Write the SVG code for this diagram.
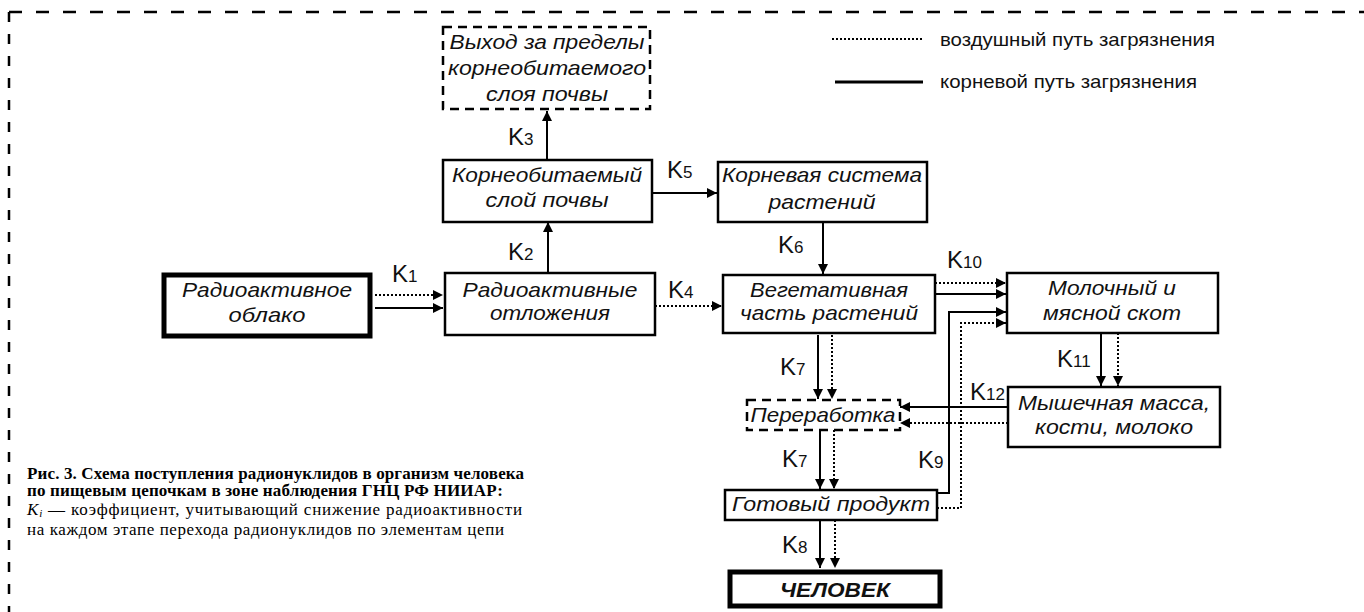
<svg xmlns="http://www.w3.org/2000/svg" width="1364" height="612" viewBox="0 0 1364 612">
<style>
.box{fill:#fff;stroke:#000;stroke-width:2.5}
.thick{fill:#fff;stroke:#000;stroke-width:5}
.dbox{fill:#fff;stroke:#000;stroke-width:2.5;stroke-dasharray:9 6}
.nt{font-family:"Liberation Sans",Arial,sans-serif;font-style:italic;font-size:21px;text-anchor:middle;fill:#111}
.k{font-family:"Liberation Sans",Arial,sans-serif;font-size:24px;fill:#111}
.k tspan{font-size:17px}
.sol{stroke:#000;stroke-width:2;fill:none}
.dot{stroke:#000;stroke-width:2;fill:none;stroke-dasharray:2 2}
.leg{font-family:"Liberation Sans",Arial,sans-serif;font-size:19px;fill:#111}
.cap{font-family:"Liberation Serif","Times New Roman",serif;font-size:17px;fill:#000}
</style>
<defs>
<marker id="ah" viewBox="0 0 10 10" refX="10" refY="5" markerWidth="10" markerHeight="10" markerUnits="userSpaceOnUse" orient="auto">
<path d="M0,0 L10,5 L0,10 Z" fill="#000"/>
</marker>
</defs>
<rect width="1364" height="612" fill="#fff"/>
<g id="frame" fill="none" stroke="#000" stroke-width="2.5">
<path d="M9,12 H1364" stroke-dasharray="13 14"/>
<path d="M9,12 V612" stroke-dasharray="10 12"/>
</g>
<g id="legend">
<line x1="832" y1="39" x2="923" y2="39" class="dot"/>
<text x="940" y="46" class="leg" textLength="275" lengthAdjust="spacingAndGlyphs">воздушный путь загрязнения</text>
<line x1="835" y1="82" x2="923" y2="82" stroke="#000" stroke-width="3"/>
<text x="940" y="88" class="leg" textLength="257" lengthAdjust="spacingAndGlyphs">корневой путь загрязнения</text>
</g>
<g id="connectors">
<line x1="375" y1="295" x2="443" y2="295" class="dot" marker-end="url(#ah)"/>
<line x1="375" y1="308" x2="443" y2="308" class="sol" marker-end="url(#ah)"/>
<line x1="548" y1="273" x2="548" y2="222" class="sol" marker-end="url(#ah)"/>
<line x1="547" y1="160" x2="547" y2="111" class="sol" marker-end="url(#ah)"/>
<line x1="652" y1="193" x2="717" y2="193" class="sol" marker-end="url(#ah)"/>
<line x1="655" y1="306" x2="722" y2="306" class="dot" marker-end="url(#ah)"/>
<line x1="823" y1="222" x2="823" y2="274" class="sol" marker-end="url(#ah)"/>
<line x1="935" y1="283" x2="1006" y2="283" class="dot" marker-end="url(#ah)"/>
<line x1="935" y1="294" x2="1006" y2="294" class="sol" marker-end="url(#ah)"/>
<path d="M937,493 H949 V312 H1006" class="sol" marker-end="url(#ah)"/>
<path d="M937,508 H961 V323 H1006" class="dot" marker-end="url(#ah)"/>
<line x1="1101" y1="333" x2="1101" y2="386" class="sol" marker-end="url(#ah)"/>
<line x1="1118" y1="333" x2="1118" y2="386" class="dot" marker-end="url(#ah)"/>
<line x1="1008" y1="407" x2="900" y2="407" class="sol" marker-end="url(#ah)"/>
<line x1="1008" y1="423" x2="900" y2="423" class="dot" marker-end="url(#ah)"/>
<line x1="818" y1="335" x2="818" y2="399" class="sol" marker-end="url(#ah)"/>
<line x1="832" y1="335" x2="832" y2="399" class="dot" marker-end="url(#ah)"/>
<line x1="820" y1="430" x2="820" y2="489" class="sol" marker-end="url(#ah)"/>
<line x1="834" y1="430" x2="834" y2="489" class="dot" marker-end="url(#ah)"/>
<line x1="820" y1="520" x2="820" y2="568" class="sol" marker-end="url(#ah)"/>
<line x1="835" y1="520" x2="835" y2="568" class="dot" marker-end="url(#ah)"/>
</g>
<g id="klabels">
<text x="508" y="145" class="k">K<tspan>3</tspan></text>
<text x="667" y="178" class="k">K<tspan>5</tspan></text>
<text x="508" y="260" class="k">K<tspan>2</tspan></text>
<text x="392" y="282" class="k">K<tspan>1</tspan></text>
<text x="668" y="298" class="k">K<tspan>4</tspan></text>
<text x="778" y="253" class="k">K<tspan>6</tspan></text>
<text x="947" y="268" class="k">K<tspan>10</tspan></text>
<text x="780" y="375" class="k">K<tspan>7</tspan></text>
<text x="1057" y="367" class="k">K<tspan>11</tspan></text>
<text x="970" y="400" class="k">K<tspan>12</tspan></text>
<text x="782" y="467" class="k">K<tspan>7</tspan></text>
<text x="918" y="468" class="k">K<tspan>9</tspan></text>
<text x="782" y="553" class="k">K<tspan>8</tspan></text>
</g>
<g id="n-exit">
<rect x="443" y="27" width="207" height="82" class="dbox"/>
<text x="547" y="49" class="nt" textLength="195" lengthAdjust="spacingAndGlyphs">Выход за пределы</text>
<text x="547" y="75" class="nt" textLength="198" lengthAdjust="spacingAndGlyphs">корнеобитаемого</text>
<text x="547" y="101" class="nt" textLength="122" lengthAdjust="spacingAndGlyphs">слоя почвы</text>
</g>
<g id="n-rootlayer">
<rect x="443" y="160" width="209" height="62" class="box"/>
<text x="547" y="182" class="nt" textLength="190" lengthAdjust="spacingAndGlyphs">Корнеобитаемый</text>
<text x="547" y="207" class="nt" textLength="123" lengthAdjust="spacingAndGlyphs">слой почвы</text>
</g>
<g id="n-rootsystem">
<rect x="718" y="162" width="209" height="60" class="box"/>
<text x="822" y="182" class="nt" textLength="200" lengthAdjust="spacingAndGlyphs">Корневая система</text>
<text x="822" y="209" class="nt" textLength="107" lengthAdjust="spacingAndGlyphs">растений</text>
</g>
<g id="n-cloud">
<rect x="164" y="275" width="206" height="61" class="thick"/>
<text x="267" y="297" class="nt" textLength="170" lengthAdjust="spacingAndGlyphs">Радиоактивное</text>
<text x="267" y="322" class="nt" textLength="77" lengthAdjust="spacingAndGlyphs">облако</text>
</g>
<g id="n-deposits">
<rect x="445" y="273" width="210" height="62" class="box"/>
<text x="550" y="297" class="nt" textLength="175" lengthAdjust="spacingAndGlyphs">Радиоактивные</text>
<text x="550" y="320" class="nt" textLength="120" lengthAdjust="spacingAndGlyphs">отложения</text>
</g>
<g id="n-vegetative">
<rect x="723" y="275" width="212" height="58" class="box"/>
<text x="829" y="297" class="nt" textLength="158" lengthAdjust="spacingAndGlyphs">Вегетативная</text>
<text x="829" y="320" class="nt" textLength="178" lengthAdjust="spacingAndGlyphs">часть растений</text>
</g>
<g id="n-cattle">
<rect x="1007" y="273" width="211" height="60" class="box"/>
<text x="1112" y="295" class="nt" textLength="128" lengthAdjust="spacingAndGlyphs">Молочный и</text>
<text x="1112" y="320" class="nt" textLength="138" lengthAdjust="spacingAndGlyphs">мясной скот</text>
</g>
<g id="n-muscle">
<rect x="1008" y="387" width="212" height="60" class="box"/>
<text x="1114" y="410" class="nt" textLength="192" lengthAdjust="spacingAndGlyphs">Мышечная масса,</text>
<text x="1114" y="434" class="nt" textLength="158" lengthAdjust="spacingAndGlyphs">кости, молоко</text>
</g>
<g id="n-processing">
<rect x="747" y="400" width="153" height="30" class="dbox"/>
<text x="823" y="422" class="nt" textLength="145" lengthAdjust="spacingAndGlyphs">Переработка</text>
</g>
<g id="n-product">
<rect x="725" y="490" width="212" height="30" class="box"/>
<text x="831" y="511" class="nt" textLength="198" lengthAdjust="spacingAndGlyphs">Готовый продукт</text>
</g>
<g id="n-human">
<rect x="730" y="572" width="210" height="34" class="thick"/>
<text x="835" y="597" class="nt" font-weight="bold" textLength="110" lengthAdjust="spacingAndGlyphs">ЧЕЛОВЕК</text>
</g>
<g id="caption">
<text x="27" y="479" class="cap" font-weight="bold" textLength="497" lengthAdjust="spacing">Рис. 3. Схема поступления радионуклидов в организм человека</text>
<text x="27" y="496" class="cap" font-weight="bold" textLength="476" lengthAdjust="spacing">по пищевым цепочкам в зоне наблюдения ГНЦ РФ НИИАР:</text>
<text x="27" y="515" class="cap" textLength="495" lengthAdjust="spacing"><tspan font-style="italic">K</tspan><tspan font-style="italic" font-size="11" dy="2">i</tspan><tspan dy="-2"> — коэффициент, учитывающий снижение радиоактивности</tspan></text>
<text x="27" y="535" class="cap" textLength="477" lengthAdjust="spacing">на каждом этапе перехода радионуклидов по элементам цепи</text>
</g>
</svg>
